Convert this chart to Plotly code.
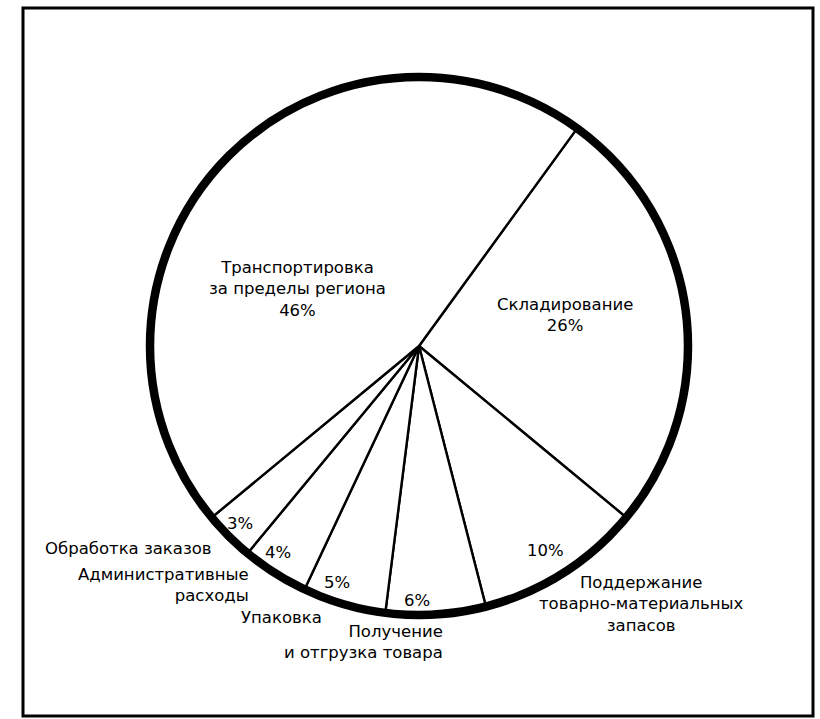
import plotly.graph_objects as go

# slice order goes clockwise from the line at the top right
labels = ['Складирование', 'Поддержание товарно-материальных запасов',
          'Получение и отгрузка товара', 'Упаковка', 'Административные расходы',
          'Обработка заказов', 'Транспортировка за пределы региона']
values = [26, 10, 6, 5, 4, 3, 46]
# text written inside the circle (name + share for the two big slices)
inner_text = ['Складирование<br>26%', '10%', '6%', '5%', '4%', '3%',
              'Транспортировка<br>за пределы региона<br>46%']
# names written outside the circle for the small slices
outer_text = ['', 'Поддержание<br>товарно-материальных<br>запасов',
              'Получение<br>и отгрузка товара', 'Упаковка',
              'Административные<br>расходы', 'Обработка заказов', '']

W, H = 820, 719
FONT = dict(family='DejaVu Sans, sans-serif', size=16.5, color='black')
ROT = 36


def dom(cx, cy, r):
    # square pie domain in paper units, from pixel centre and radius
    return dict(x=[(cx - r) / W, (cx + r) / W], y=[1 - (cy + r) / H, 1 - (cy - r) / H])


fig = go.Figure()

# main pie: white slices with thin dividing lines
fig.add_trace(go.Pie(
    labels=labels, values=values, sort=False, direction='clockwise', rotation=ROT,
    textinfo='none',
    marker=dict(colors=['white'] * len(values), line=dict(color='black', width=2.4)),
    domain=dom(419, 346, 269), hoverinfo='skip', showlegend=False,
))

# thick outer rim
fig.add_trace(go.Pie(
    labels=['rim'], values=[1], textinfo='none', sort=False,
    marker=dict(colors=['rgba(0,0,0,0)'], line=dict(color='black', width=8.5)),
    domain=dom(419, 346, 269), hoverinfo='skip', showlegend=False,
))

# label placement in pixels (x, y, xanchor, align), same order as the slices
inner_pos = [(565, 315, 'center', 'center'), (545, 550, 'center', 'center'),
             (417, 600, 'center', 'center'), (337, 582, 'center', 'center'),
             (278, 552, 'center', 'center'), (240, 523, 'center', 'center'),
             (297, 289, 'center', 'center')]
outer_pos = [None, (641, 604, 'center', 'center'), (445, 642, 'right', 'right'),
             (324, 617, 'right', 'right'), (251, 585, 'right', 'right'),
             (214, 548, 'right', 'right'), None]

for txt, pos in zip(inner_text + outer_text, inner_pos + outer_pos):
    if not txt:
        continue
    x, y, xa, al = pos
    fig.add_annotation(x=x / W, y=1 - y / H, xref='paper', yref='paper', text=txt,
                       showarrow=False, xanchor=xa, yanchor='middle', align=al, font=FONT)

fig.update_layout(
    width=W, height=H,
    margin=dict(l=0, r=0, t=0, b=0),
    paper_bgcolor='white', plot_bgcolor='white',
    shapes=[dict(type='rect', xref='paper', yref='paper',
                 x0=23 / W, x1=813 / W, y0=1 - 716 / H, y1=1 - 8 / H,
                 line=dict(color='black', width=3))],
)

fig.write_html("out.html", config={'displayModeBar': False},
               post_script="document.body.style.margin='0';")
